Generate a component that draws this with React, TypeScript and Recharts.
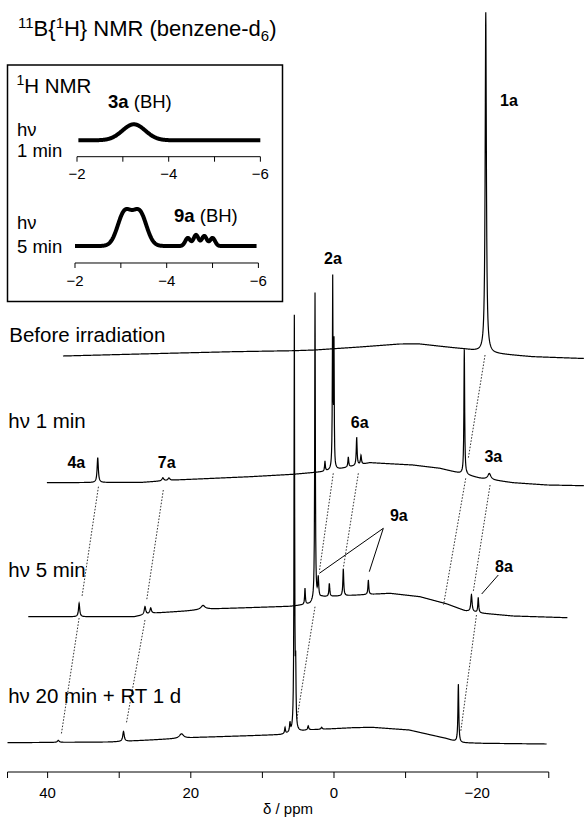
import React from 'react';
import { LineChart, Line, XAxis, YAxis, ReferenceLine } from 'recharts';

const FONT = '"Liberation Sans", Arial, Helvetica, sans-serif';

// ---------- main 11B{1H} spectra (ppm, intensity in px-units above trace zero) ----------
const trace1Range = [37.86, -34.9];
const trace1Baseline = [[37.86, 0], [23.3, 2.7], [14.1, 4.3], [5.6, 5.3], [2.7, 6], [-3.6, 9], [-9.2, 12], [-12, 12], [-18.2, 7], [-20.4, 4.5], [-22.3, 2.5], [-27.7, -0.7], [-34.9, -2.5]];
const trace1Peaks = [[-21.2, 340, 0.1]]; // [ppm, height, half-width]

const trace2Range = [40.1, -34.9];
const trace2Baseline = [[40.1, 0], [26.7, 0.4], [22.2, 2.7], [11.7, 6], [5.7, 8.4], [1.5, 11], [-1.0, 14], [-5.0, 20], [-11.0, 17.7], [-14.8, 14.4], [-17.6, 9.5], [-20.4, 4.5], [-25.0, 0], [-29.8, -2.3], [-34.9, -3]];
const trace2Peaks = [[33.0, 25, 0.1], [23.9, 3, 0.15], [23.05, 2.5, 0.15], [1.26, 10, 0.06], [0.18, 190, 0.05], [0.0, 120, 0.04], [-2.0, 10, 0.07], [-3.17, 28, 0.07], [-3.77, 9, 0.08], [-18.2, 125, 0.06], [-21.7, 6, 0.25]];

const trace3Range = [42.7, -32.6];
const trace3Baseline = [[42.7, 0], [27.9, 0], [25.4, 3.5], [20.7, 5.7], [17.6, 7.7], [6.1, 10.4], [5.2, 11.1], [3.35, 12.7], [1.68, 19.7], [-7.8, 23.4], [-12.0, 20], [-15.8, 12.7], [-18.3, 6], [-20.8, 3.4], [-25.0, 0.7], [-32.6, -1]];
const trace3Peaks = [[35.6, 13.5, 0.1], [26.4, 8, 0.12], [25.6, 5.5, 0.12], [18.3, 4, 0.35], [4.05, 16, 0.06], [2.65, 308, 0.05], [2.2, 20, 0.08], [0.65, 13, 0.07], [-1.3, 27, 0.07], [-4.8, 14.5, 0.07], [-19.2, 17, 0.1], [-20.15, 15, 0.07]];

const trace4Range = [45.6, -29.7];
const trace4Baseline = [[45.6, 0], [31.3, 0.7], [25.7, 2.7], [18.7, 5.4], [13.1, 6.7], [7.5, 8], [6.1, 9.4], [3.56, 12.7], [-2.65, 15], [-5.3, 15.4], [-10.5, 12.7], [-15.6, 4.4], [-17.1, 1], [-17.7, 0], [-20.8, -0.6], [-29.7, -1.3]];
const trace4Peaks = [[38.5, 2, 0.15], [29.4, 10, 0.12], [21.3, 4.5, 0.35], [6.84, 6, 0.07], [6.15, 9, 0.07], [5.54, 414, 0.05], [5.35, 55, 0.05], [3.6, 4, 0.08], [1.72, 2, 0.1], [-17.37, 58, 0.07]];

// vertical stacking of the four spectra (layout)
const TRACE_OFFSET = [416, 289.3, 155.3, 29.3];

// dotted correlation lines: [ppmFrom, traceFrom, relFrom, ppmTo, traceTo, relTo]
const connectors = [
  [32.9, 1, -4, 35.2, 2, 20], [35.6, 2, -1.3, 38.1, 3, 7.7],
  [23.84, 1, -7.3, 26.16, 2, 16.7], [26.4, 2, -3.3, 29.0, 3, 19.4],
  [0.1, 1, 9.4, 2.05, 2, 45], [2.65, 2, 10, 5.2, 3, 22.7],
  [-3.4, 1, 9.4, -1.3, 2, 48.4],
  [-21.1, 0, 1, -18.76, 1, 24.4], [-18.4, 1, 4.4, -15.3, 2, 11.7],
  [-21.8, 1, -2.3, -19.45, 2, 25], [-19.9, 2, 1.7, -17.7, 3, 11],
];
// solid label pointers (trace 3): [ppmFrom, relFrom, ppmTo, relTo]
const pointers = [
  [-6.89, 88.4, 2.05, 43.4], [-6.89, 88.4, -4.93, 45], [-22.95, 41.7, -20.63, 22.7],
];

// ---------- inset 1H spectra (ppm, gaussian bands) ----------
const inset1Range = [-2.03, -6.01];
const inset1Peaks = [[-3.24, 16, 0.25]];
const inset2Range = [-2.0, -5.96];
const inset2Peaks = [[-3.08, 33, 0.15], [-3.41, 33, 0.15], [-4.46, 8, 0.055], [-4.64, 11, 0.055], [-4.82, 10, 0.055], [-5.0, 8, 0.055]];
const INSET_BASE = [16.4, 17];

const mainTicks = [45.6, 40, 30, 20, 10, 0, -10, -20, -30];
const mainTickLabels = [40, 20, 0, -20];
const insetTicks = [-2, -3, -4, -5, -6];
const insetTickLabels = [-2, -4, -6];

const PLOT_H = 772;
const fmt = (v: number) => (v < 0 ? '\u2212' + Math.abs(v) : String(v));

function interp(x: number, pts: number[][]) {
  if (x >= pts[0][0]) return pts[0][1];
  for (let i = 1; i < pts.length; i++) {
    if (x >= pts[i][0]) {
      const [x0, y0] = pts[i - 1];
      const [x1, y1] = pts[i];
      const t = (x0 - x) / (x0 - x1);
      return y0 + t * (y1 - y0);
    }
  }
  return pts[pts.length - 1][1];
}

function grid(hi: number, lo: number, step: number, extra: number[]) {
  const n = Math.round((hi - lo) / step);
  const xs: number[] = [];
  for (let i = 0; i <= n; i++) xs.push(hi - ((hi - lo) * i) / n);
  extra.forEach((c) => { if (c < hi && c > lo) xs.push(c); });
  xs.sort((a, b) => b - a);
  return xs;
}

function buildTrace(range: number[], base: number[][], peaks: number[][], offset: number) {
  const xs = grid(range[0], range[1], 0.04, peaks.map((p) => p[0]));
  return xs.map((x) => {
    let y = offset + interp(x, base);
    peaks.forEach(([c, h, g]) => { y += (h * g * g) / (g * g + (x - c) * (x - c)); });
    return { x, y };
  });
}

function buildInset(range: number[], peaks: number[][], base: number) {
  const xs = grid(range[0], range[1], 0.008, peaks.map((p) => p[0]));
  return xs.map((x) => {
    let y = base;
    peaks.forEach(([c, h, s]) => { y += h * Math.exp(-((x - c) * (x - c)) / (2 * s * s)); });
    return { x, y };
  });
}

const traces = [
  buildTrace(trace1Range, trace1Baseline, trace1Peaks, TRACE_OFFSET[0]),
  buildTrace(trace2Range, trace2Baseline, trace2Peaks, TRACE_OFFSET[1]),
  buildTrace(trace3Range, trace3Baseline, trace3Peaks, TRACE_OFFSET[2]),
  buildTrace(trace4Range, trace4Baseline, trace4Peaks, TRACE_OFFSET[3]),
];
const inset1 = buildInset(inset1Range, inset1Peaks, INSET_BASE[0]);
const inset2 = buildInset(inset2Range, inset2Peaks, INSET_BASE[1]);

function InsetChart({ data, left, top, plotH }: { data: { x: number; y: number }[]; left: number; top: number; plotH: number }) {
  return (
    <div style={{ position: 'absolute', left, top }}>
      <LineChart width={213.4} height={plotH + 30} margin={{ top: 0, right: 15, bottom: 0, left: 15 }}>
        <XAxis
          type="number"
          dataKey="x"
          domain={[-6, -2]}
          reversed
          allowDataOverflow
          ticks={insetTicks}
          interval={0}
          tickFormatter={(v: number) => (insetTickLabels.includes(v) ? fmt(v) : '')}
          tickSize={5}
          tickMargin={7}
          height={30}
          axisLine={{ stroke: '#000', strokeWidth: 1 }}
          tickLine={{ stroke: '#000', strokeWidth: 1 }}
          tick={{ fill: '#000', fontSize: 15, fontFamily: FONT }}
        />
        <YAxis hide type="number" domain={[0, plotH]} allowDataOverflow />
        <Line data={data} dataKey="y" type="linear" dot={false} activeDot={false} stroke="#000" strokeWidth={4} isAnimationActive={false} />
      </LineChart>
    </div>
  );
}

export default function App() {
  const lbl = { fontFamily: FONT, fontSize: 20.5, fill: '#000' } as const;
  const inl = { fontFamily: FONT, fontSize: 18.5, fill: '#000' } as const;
  const bold = { fontFamily: FONT, fontSize: 16, fontWeight: 700, fill: '#000', textAnchor: 'middle' } as const;
  return (
    <div style={{ position: 'absolute', left: 0, top: 0, width: 584, height: 817, background: '#fff' }}>
      <LineChart width={584} height={817} margin={{ top: 0, right: 0, bottom: 0, left: 0 }}>
        <XAxis
          type="number"
          dataKey="x"
          domain={[-34.92, 46.65]}
          reversed
          allowDataOverflow
          ticks={mainTicks}
          interval={0}
          tickFormatter={(v: number) => (mainTickLabels.includes(v) ? fmt(v) : '')}
          tickSize={6}
          tickMargin={9}
          height={45}
          axisLine={false}
          tickLine={{ stroke: '#000', strokeWidth: 1 }}
          tick={{ fill: '#000', fontSize: 15, fontFamily: FONT }}
        />
        <YAxis hide type="number" domain={[0, PLOT_H]} allowDataOverflow />
        <ReferenceLine segment={[{ x: 45.6, y: 0 }, { x: -30, y: 0 }]} stroke="#000" strokeWidth={1} ifOverflow="visible" />
        {connectors.map((c, i) => (
          <ReferenceLine
            key={'c' + i}
            segment={[{ x: c[0], y: TRACE_OFFSET[c[1]] + c[2] }, { x: c[3], y: TRACE_OFFSET[c[4]] + c[5] }]}
            stroke="#333"
            strokeWidth={1}
            strokeDasharray="1.6 1.6"
            ifOverflow="visible"
          />
        ))}
        {pointers.map((p, i) => (
          <ReferenceLine
            key={'p' + i}
            segment={[{ x: p[0], y: TRACE_OFFSET[2] + p[1] }, { x: p[2], y: TRACE_OFFSET[2] + p[3] }]}
            stroke="#000"
            strokeWidth={1}
            ifOverflow="visible"
          />
        ))}
        {traces.map((d, i) => (
          <Line key={i} data={d} dataKey="y" type="linear" dot={false} activeDot={false} stroke="#000" strokeWidth={1.2} isAnimationActive={false} />
        ))}
      </LineChart>

      <InsetChart data={inset1} left={62.4} top={100} plotH={56.7} />
      <InsetChart data={inset2} left={60.4} top={200} plotH={63} />

      <svg width={584} height={817} style={{ position: 'absolute', left: 0, top: 0, pointerEvents: 'none' }}>
        <text x={18} y={36} style={{ fontFamily: FONT, fontSize: 22, fill: '#000' }}>
          <tspan fontSize={15} dy={-8}>11</tspan>
          <tspan dy={8}>B{'{'}</tspan>
          <tspan fontSize={15} dy={-8}>1</tspan>
          <tspan dy={8}>H{'}'} NMR (benzene-d</tspan>
          <tspan fontSize={15} dy={5}>6</tspan>
          <tspan dy={-5}>)</tspan>
        </text>
        <rect x={7.5} y={65} width={275} height={236.5} fill="none" stroke="#000" strokeWidth={1.5} />
        <text x={16.4} y={93.4} style={lbl}>
          <tspan fontSize={14} dy={-8}>1</tspan>
          <tspan dy={8}>H NMR</tspan>
        </text>
        <text x={108} y={108} style={{ fontFamily: FONT, fontSize: 18.5, fill: '#000' }}>
          <tspan fontWeight={700}>3a</tspan> (BH)
        </text>
        <text x={174} y={222} style={{ fontFamily: FONT, fontSize: 18.5, fill: '#000' }}>
          <tspan fontWeight={700}>9a</tspan> (BH)
        </text>
        <text x={17} y={135.5} style={inl}>hν</text>
        <text x={17} y={157} style={inl}>1 min</text>
        <text x={17} y={229} style={inl}>hν</text>
        <text x={17} y={252.5} style={inl}>5 min</text>

        <text x={9.3} y={341.5} style={lbl}>Before irradiation</text>
        <text x={8.3} y={428} style={lbl}>hν 1 min</text>
        <text x={8.3} y={576.7} style={lbl}>hν 5 min</text>
        <text x={8.2} y={703} style={lbl}>hν 20 min + RT 1 d</text>

        <text x={509} y={106} style={bold}>1a</text>
        <text x={333} y={264} style={bold}>2a</text>
        <text x={359.7} y={428} style={bold}>6a</text>
        <text x={493.3} y={462} style={bold}>3a</text>
        <text x={76.3} y={467.5} style={bold}>4a</text>
        <text x={166.7} y={467.5} style={bold}>7a</text>
        <text x={398.8} y={520.5} style={bold}>9a</text>
        <text x={504} y={572} style={bold}>8a</text>

        <text x={288} y={814} style={{ fontFamily: FONT, fontSize: 15, fill: '#000', textAnchor: 'middle' }}>δ / ppm</text>
      </svg>
    </div>
  );
}
